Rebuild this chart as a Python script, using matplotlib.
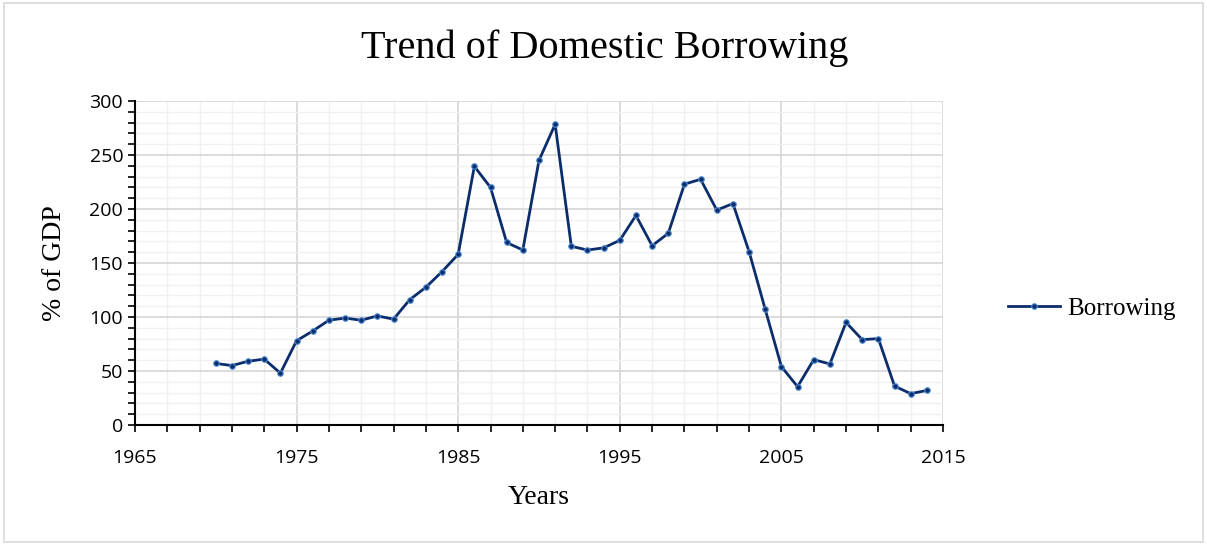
import numpy as np
import matplotlib.pyplot as plt
from matplotlib.ticker import MultipleLocator
from matplotlib.patches import Rectangle

# Dados
anos = list(range(1970, 2015))
emprestimos = [57, 55, 59, 61, 48, 78, 87, 97, 99, 97, 101, 98, 116, 127.5, 142,
               158, 239.5, 220, 169, 162, 245, 278.5, 165.5, 162, 164, 171, 194,
               166, 177.5, 223, 227.5, 199, 205, 160.5, 107, 54, 35.5, 60.5, 56.5,
               95, 79, 80, 36, 29, 32]

titulo = 'Trend of Domestic Borrowing'
rotulo_x = 'Years'
rotulo_y = '% of GDP'
legenda = 'Borrowing'

serif = ['Liberation Serif', 'DejaVu Serif']
sans = ['Open Sans', 'DejaVu Sans']
azul = '#0c2d6b'

fig = plt.figure(figsize=(12.07, 5.44), dpi=100)
fig.patches.append(Rectangle((0.003, 0.004), 0.994, 0.99, transform=fig.transFigure,
                             fill=False, edgecolor='#d9d9d9', linewidth=1.2))
ax = fig.add_axes([0.1118, 0.2188, 0.6695, 0.5955])

ax.plot(anos, emprestimos, color=azul, linewidth=2.0, marker='o', markersize=4,
        markerfacecolor=azul, markeredgecolor='#4f8fd6', markeredgewidth=0.8,
        label=legenda, zorder=3)

ax.set_xlim(1965, 2015)
ax.set_ylim(0, 300)
ax.xaxis.set_minor_locator(MultipleLocator(2, offset=1))
ax.yaxis.set_major_locator(MultipleLocator(50))
ax.yaxis.set_minor_locator(MultipleLocator(10))
ax.set_xticks(range(1965, 2016, 10))

ax.grid(which='minor', color='#f0f0f0', linewidth=1.0, zorder=0)
ax.grid(which='major', color='#d9d9d9', linewidth=1.3, zorder=1)
ax.set_axisbelow(True)

for s in ['top', 'right']:
    ax.spines[s].set_visible(False)
for s in ['left', 'bottom']:
    ax.spines[s].set_color('black')
    ax.spines[s].set_linewidth(1.5)

ax.tick_params(which='both', direction='out', width=1.2, colors='black')
ax.tick_params(which='major', length=5, labelsize=14)
ax.tick_params(which='minor', length=5)
ax.tick_params(axis='x', which='major', pad=12)
for lab in ax.get_xticklabels() + ax.get_yticklabels():
    lab.set_family(sans)

# titulo centrado na figura inteira
fig.text(0.501, 0.912, titulo, family=serif, fontsize=29, ha='center', va='center')
ax.set_xlabel(rotulo_x, family=serif, fontsize=20, labelpad=13)
ax.set_ylabel(rotulo_y, family=serif, fontsize=20, labelpad=16)

ax.legend(loc='center left', bbox_to_anchor=(1.052, 0.36), frameon=False,
          prop={'family': serif, 'size': 18}, handlelength=2.1, handletextpad=0.3)

fig.savefig('out.png', dpi=100)
